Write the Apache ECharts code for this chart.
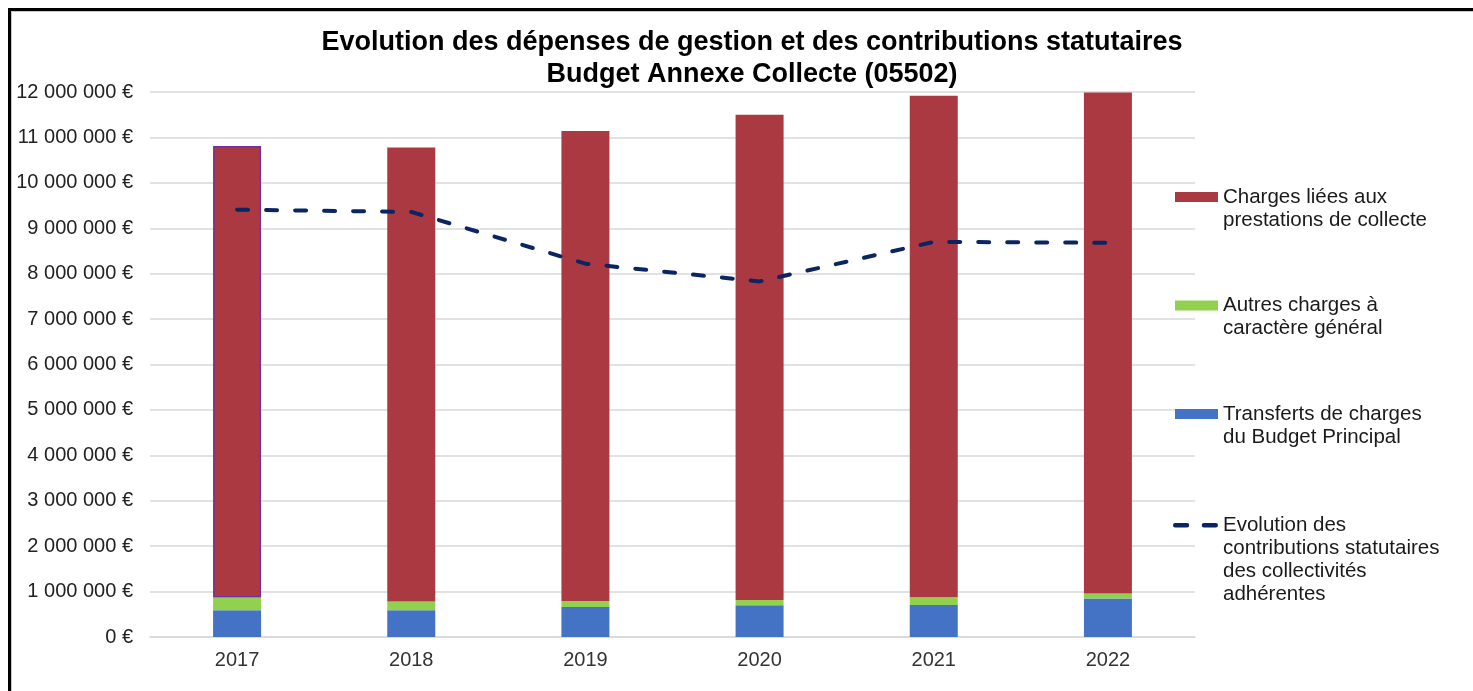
<!DOCTYPE html>
<html lang="fr">
<head>
<meta charset="utf-8">
<title>Evolution des dépenses de gestion et des contributions statutaires</title>
<script src="https://cdn.jsdelivr.net/npm/echarts@6/dist/echarts.min.js"></script>
<style>
  html, body { margin: 0; padding: 0; background: #fff; }
  #wrap { position: relative; width: 1473px; height: 691px; overflow: hidden; background: #fff; }
  #chart { position: absolute; left: 0; top: 0; width: 1473px; height: 691px; }
  #frame {
    position: absolute; left: 8px; top: 8px; right: -10px; bottom: -10px;
    border-top: 3px solid #000; border-left: 3px solid #000;
    box-shadow: inset 1px 1px 0 #c8c8c8;
    pointer-events: none;
  }
</style>
</head>
<body>
<div id="wrap">
  <div id="chart"></div>
  <div id="frame"></div>
</div>
<script>
// Years on the category axis
const years = ['2017', '2018', '2019', '2020', '2021', '2022'];

// Stacked spending components (€)
const transferts = [590000, 590000, 660000, 700000, 705000, 850000];
const autresCharges = [280000, 190000, 135000, 115000, 170000, 110000];
const chargesCollecte = [9940000, 10000000, 10345000, 10685000, 11045000, 11030000];

// Statutory contributions of member authorities (€)
const contributions = [9410000, 9360000, 8220000, 7830000, 8700000, 8680000];

// Value axis ticks
const yMin = 0;
const yMax = 12000000;
const yStep = 1000000;

const seriesNames = {
  collecte: 'Charges liées aux\nprestations de collecte',
  autres: 'Autres charges à\ncaractère général',
  transferts: 'Transferts de charges\ndu Budget Principal',
  contributions: 'Evolution des\ncontributions statutaires\ndes collectivités\nadhérentes'
};

const COLORS = {
  collecte: '#AB3941',
  autres: '#92D050',
  transferts: '#4472C4',
  contributions: '#0B2462'
};

const FONT = '"Liberation Sans", Arial, Helvetica, sans-serif';
const LEGEND_LH = 23;

function formatEuro(v) {
  const s = String(Math.round(v)).replace(/\B(?=(\d{3})+(?!\d))/g, ' ');
  return s + ' €';
}

// Legend icons: a swatch aligned with the first text line; the extra
// move-to points only set the icon's bounding box.
function barIcon(lines) {
  const h = lines * LEGEND_LH;
  const c = LEGEND_LH / 2;
  return 'path://M0,0M0,' + (c - 5) + 'h43v10h-43zM43,' + h;
}
function dashIcon(lines) {
  const h = lines * LEGEND_LH;
  const c = LEGEND_LH / 2;
  return 'path://M0,0M2,' + (c - 2.2) + 'h12a2.2,2.2 0 0 1 0,4.4h-12a2.2,2.2 0 0 1 0,-4.4z' +
         'M31,' + (c - 2.2) + 'h12a2.2,2.2 0 0 1 0,4.4h-12a2.2,2.2 0 0 1 0,-4.4zM45,' + h;
}

const chart = echarts.init(document.getElementById('chart'), null, { renderer: 'canvas' });

const option = {
  backgroundColor: '#fff',
  animation: false,
  textStyle: { fontFamily: FONT },
  title: {
    text: 'Evolution des dépenses de gestion et des contributions statutaires\nBudget Annexe Collecte (05502)',
    left: 752,
    top: 27,
    padding: 0,
    textAlign: 'center',
    textStyle: {
      fontFamily: FONT,
      fontSize: 27,
      fontWeight: 'bold',
      lineHeight: 32,
      color: '#000'
    }
  },
  grid: {
    left: 150,
    right: 278,
    top: 92,
    bottom: 54,
    containLabel: false,
    outerBoundsMode: 'none'
  },
  legend: [
    {
      orient: 'vertical',
      left: 1175,
      top: 185.5,
      padding: 0,
      itemWidth: 43,
      itemHeight: 2 * LEGEND_LH,
      itemGap: 62.5,
      selectedMode: false,
      itemStyle: { borderWidth: 0 },
      textStyle: { fontFamily: FONT, fontSize: 20.5, lineHeight: LEGEND_LH, color: '#1a1a1a' },
      data: [
        { name: seriesNames.collecte, icon: barIcon(2) },
        { name: seriesNames.autres, icon: barIcon(2) },
        { name: seriesNames.transferts, icon: barIcon(2) }
      ]
    },
    {
      orient: 'vertical',
      left: 1173,
      top: 513.5,
      padding: 0,
      itemWidth: 45,
      itemHeight: 4 * LEGEND_LH,
      selectedMode: false,
      textStyle: { fontFamily: FONT, fontSize: 20.5, lineHeight: LEGEND_LH, color: '#1a1a1a' },
      data: [
        {
          name: seriesNames.contributions,
          icon: dashIcon(4),
          itemStyle: { color: COLORS.contributions, borderWidth: 0 }
        }
      ]
    }
  ],
  xAxis: {
    type: 'category',
    data: years,
    axisLine: { show: true, lineStyle: { color: '#d9d9d9', width: 1.5 } },
    axisTick: { show: false },
    axisLabel: { fontFamily: FONT, fontSize: 20, color: '#333', margin: 13 }
  },
  yAxis: {
    type: 'value',
    min: yMin,
    max: yMax,
    interval: yStep,
    axisLine: { show: false },
    axisTick: { show: false },
    splitLine: { show: true, lineStyle: { color: '#d9d9d9', width: 1.5 } },
    axisLabel: {
      fontFamily: FONT,
      fontSize: 20,
      color: '#222',
      margin: 17,
      formatter: formatEuro
    }
  },
  series: [
    {
      name: seriesNames.transferts,
      type: 'bar',
      stack: 'depenses',
      barWidth: 48,
      itemStyle: { color: COLORS.transferts },
      data: transferts
    },
    {
      name: seriesNames.autres,
      type: 'bar',
      stack: 'depenses',
      barWidth: 48,
      itemStyle: { color: COLORS.autres },
      data: autresCharges
    },
    {
      name: seriesNames.collecte,
      type: 'bar',
      stack: 'depenses',
      barWidth: 48,
      itemStyle: { color: COLORS.collecte },
      data: chargesCollecte.map(function (v, i) {
        return i === 0
          ? { value: v, itemStyle: { borderColor: '#7030A0', borderWidth: 1.5 } }
          : v;
      })
    },
    {
      name: seriesNames.contributions,
      type: 'line',
      symbol: 'none',
      smooth: false,
      z: 5,
      lineStyle: {
        color: COLORS.contributions,
        width: 4,
        type: [11, 18],
        cap: 'round'
      },
      itemStyle: { color: COLORS.contributions },
      data: contributions
    }
  ]
};

chart.setOption(option);
</script>
</body>
</html>
